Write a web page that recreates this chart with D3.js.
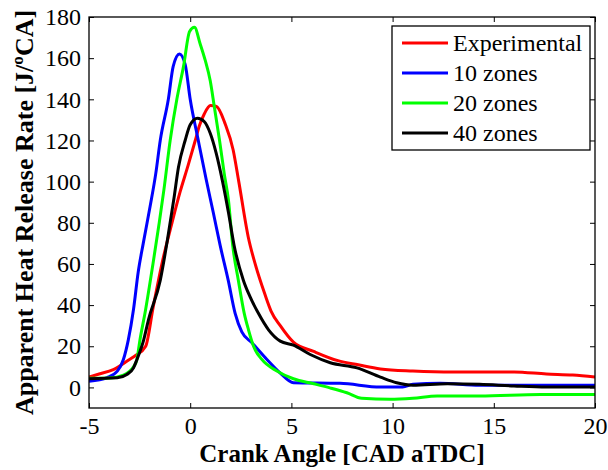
<!DOCTYPE html>
<html>
<head>
<meta charset="utf-8">
<script src="https://cdn.jsdelivr.net/npm/d3@7"></script>
<style>
  html, body { margin: 0; padding: 0; background: #fff; }
  svg { display: block; }
  text { font-family: "Liberation Serif", "Times New Roman", serif; fill: #000; }
</style>
</head>
<body>
<div id="chart"></div>
<script>
// Heat release rate vs. crank angle: experiment and multi-zone model runs
const xTicks = [-5, 0, 5, 10, 15, 20];
const yTicks = [0, 20, 40, 60, 80, 100, 120, 140, 160, 180];

const seriesNames = ["Experimental", "10 zones", "20 zones", "40 zones"];
const seriesColors = ["#ff0000", "#0000ff", "#00ff00", "#000000"];

const expAngle = [-5, -4.5, -3.8, -3.0, -2.7, -2.2, -1.83, -1.4, -0.9, -0.5, -0.1, 0.25, 0.45, 0.7, 1.0, 1.3, 1.73, 2.12, 2.4, 2.87, 3.21, 3.7, 4.0, 4.45, 5.1, 6.1, 7.3, 8.3, 9.4, 11.0, 13.0, 16.0, 17.6, 18.9, 20];
const expRate  = [5, 6.5, 8.7, 13.6, 15.5, 20, 39, 60, 80, 95, 108, 120, 127, 133, 137, 136.5, 128, 115.5, 100, 73, 60, 45, 37, 30, 22, 17.5, 13, 11, 9, 8, 7.5, 7.5, 6.5, 6, 5];

const z10Angle = [-5, -4.1, -3.6, -3.3, -3.06, -2.8, -2.57, -2.32, -1.98, -1.7, -1.48, -1.08, -0.84, -0.53, -0.25, 0, 0.4, 0.79, 1.14, 1.48, 1.88, 2.22, 2.55, 3.05, 3.79, 4.45, 5.1, 7.4, 9.4, 10.5, 11.0, 12.35, 14.3, 20];
const z10Rate  = [3, 4.8, 7.9, 13.6, 23, 38, 56, 70, 88, 104, 120, 140, 156, 162, 157, 140, 120, 101, 85, 69, 52, 36, 27, 21.7, 13.6, 7, 2.3, 2, 0.2, 0.2, 1.5, 2, 1, 1];

const z20Angle = [-5, -4, -3.3, -2.8, -2.63, -2.5, -2.2, -1.84, -1.53, -1.3, -0.99, -0.66, -0.33, -0.03, 0.21, 0.49, 0.74, 0.99, 1.19, 1.45, 1.68, 1.89, 2.1, 2.38, 2.67, 2.88, 3.13, 3.54, 4.28, 5.1, 6.1, 6.9, 7.74, 8.48, 9.88, 11.0, 12.2, 14.3, 17.3, 20];
const z20Rate  = [4.4, 4.6, 6, 10, 13.6, 22, 38, 60, 80, 96, 120, 140, 156, 173, 175, 167, 159, 149, 136.5, 120, 104, 91, 69, 52, 36, 28, 20, 13.6, 8, 4.2, 1.8, -0.2, -2.6, -5.3, -5.8, -5.3, -4.2, -4.2, -3.4, -3.4];

const z40Angle = [-5, -3.6, -3.13, -2.8, -2.63, -2.3, -2.06, -1.48, -1.12, -0.8, -0.58, -0.25, 0, 0.36, 0.69, 0.99, 1.28, 1.6, 1.89, 2.17, 2.63, 2.96, 3.37, 3.87, 4.45, 5.1, 5.93, 6.92, 8.24, 9.4, 10.2, 11.0, 12.7, 14.3, 16.0, 17.6, 20];
const z40Rate  = [4.2, 4.7, 6.3, 9.5, 13.6, 23, 33, 52, 72, 92, 107, 120, 127.6, 130.8, 129.2, 123.5, 114, 100, 85, 69, 52, 44, 36, 28, 22.5, 20.5, 16, 12, 9.5, 5, 2.3, 1.1, 1.8, 1.5, 0.7, 0.2, 0.2];

const seriesAngles = [expAngle, z10Angle, z20Angle, z40Angle];
const seriesRates = [expRate, z10Rate, z20Rate, z40Rate];

const W = 608, H = 470;
const margin = { left: 89, right: 13, top: 17, bottom: 62 };

const svg = d3.select("#chart").append("svg")
  .attr("width", W).attr("height", H);

const x = d3.scaleLinear().domain([-5, 20]).range([margin.left, W - margin.right]);
const y = d3.scaleLinear().domain([-10, 180]).range([H - margin.bottom, margin.top]);

const clipId = "plot-clip";
svg.append("clipPath").attr("id", clipId).append("rect")
  .attr("x", x(-5)).attr("y", y(180))
  .attr("width", x(20) - x(-5)).attr("height", y(-10) - y(180));

// Curves
const line = d3.line()
  .x(d => x(d[0]))
  .y(d => y(d[1]))
  .curve(d3.curveMonotoneX);

const plot = svg.append("g").attr("clip-path", `url(#${clipId})`);
seriesNames.forEach((name, i) => {
  const pts = seriesAngles[i].map((a, k) => [a, seriesRates[i][k]]);
  plot.append("path")
    .datum(pts)
    .attr("fill", "none")
    .attr("stroke", seriesColors[i])
    .attr("stroke-width", 3)
    .attr("stroke-linejoin", "round")
    .attr("d", line);
});

// Axes with inward ticks on all four sides
const tickLen = 5;
const fontSize = 24;
const plainNum = d => String(d);

const xAxisB = svg.append("g").attr("transform", `translate(0,${y(-10)})`)
  .call(d3.axisBottom(x).tickValues(xTicks).tickSizeInner(-tickLen).tickSizeOuter(0).tickPadding(9).tickFormat(plainNum));
const xAxisT = svg.append("g").attr("transform", `translate(0,${y(180)})`)
  .call(d3.axisTop(x).tickValues(xTicks).tickSizeInner(-tickLen).tickSizeOuter(0).tickFormat(""));
const yAxisL = svg.append("g").attr("transform", `translate(${x(-5)},0)`)
  .call(d3.axisLeft(y).tickValues(yTicks).tickSizeInner(-tickLen).tickSizeOuter(0).tickPadding(8).tickFormat(plainNum));
const yAxisR = svg.append("g").attr("transform", `translate(${x(20)},0)`)
  .call(d3.axisRight(y).tickValues(yTicks).tickSizeInner(-tickLen).tickSizeOuter(0).tickFormat(""));

[xAxisB, xAxisT, yAxisL, yAxisR].forEach(g => {
  g.select(".domain").remove();
  g.selectAll(".tick line").attr("stroke", "#000").attr("stroke-width", 1);
  g.selectAll(".tick text")
    .attr("font-family", "Liberation Serif, Times New Roman, serif")
    .attr("font-size", fontSize)
    .attr("fill", "#000");
});

// Frame
svg.append("rect")
  .attr("x", x(-5)).attr("y", y(180))
  .attr("width", x(20) - x(-5)).attr("height", y(-10) - y(180))
  .attr("fill", "none").attr("stroke", "#000").attr("stroke-width", 1.3);

// Axis titles
svg.append("text")
  .attr("x", (x(-5) + x(20)) / 2)
  .attr("y", 462)
  .attr("text-anchor", "middle")
  .attr("font-size", 25)
  .attr("font-weight", "bold")
  .text("Crank Angle [CAD aTDC]");

svg.append("text")
  .attr("transform", `translate(33,${(y(-10) + y(180)) / 2}) rotate(-90)`)
  .attr("text-anchor", "middle")
  .attr("font-size", 26)
  .attr("font-weight", "bold")
  .text("Apparent Heat Release Rate [J/ºCA]");

// Legend
const lg = svg.append("g");
lg.append("rect")
  .attr("x", 392).attr("y", 26).attr("width", 198).attr("height", 124)
  .attr("fill", "#fff").attr("stroke", "#000").attr("stroke-width", 1.3);
seriesNames.forEach((name, i) => {
  const cy = 43 + i * 30;
  lg.append("line")
    .attr("x1", 402).attr("x2", 448).attr("y1", cy).attr("y2", cy)
    .attr("stroke", seriesColors[i]).attr("stroke-width", 3);
  lg.append("text")
    .attr("x", 453).attr("y", cy + 8)
    .attr("font-size", 24)
    .text(name);
});
</script>
</body>
</html>
